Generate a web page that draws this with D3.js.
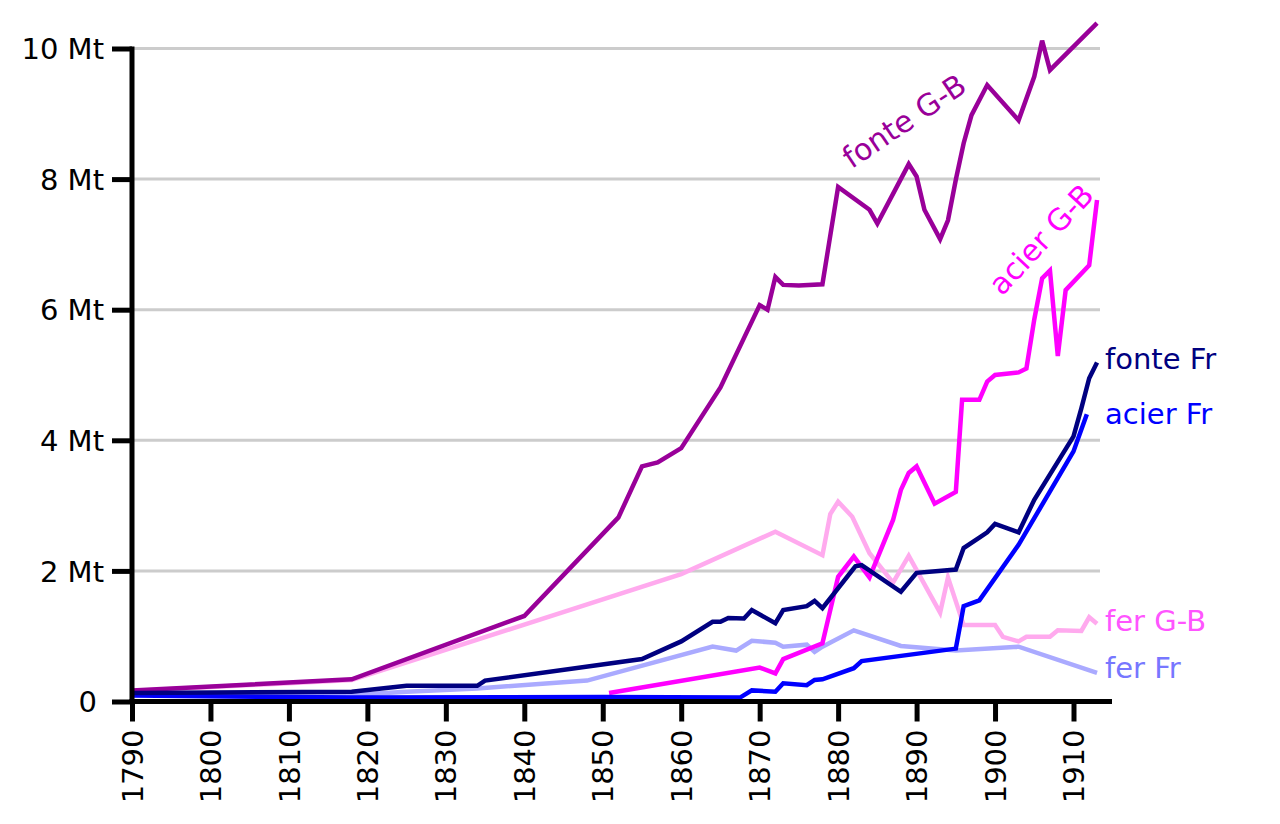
<!DOCTYPE html>
<html>
<head>
<meta charset="utf-8">
<script src="https://cdn.jsdelivr.net/npm/d3@7"></script>
<style>
  html, body { margin: 0; padding: 0; background: #fff; }
  svg { display: block; font-family: "DejaVu Sans", sans-serif; }
</style>
</head>
<body>
<svg id="chart" width="1280" height="824"></svg>
<script>
// ---- Data (Mt) ----
const xTicks = [1790, 1800, 1810, 1820, 1830, 1840, 1850, 1860, 1870, 1880, 1890, 1900, 1910];
const yTicks = [0, 2, 4, 6, 8, 10];
const yTickLabels = ["0", "2 Mt", "4 Mt", "6 Mt", "8 Mt", "10 Mt"];

const fonteGB = [[1790,0.17],[1818,0.34],[1840,1.31],[1852,2.82],[1855,3.6],[1857,3.66],[1860,3.88],
  [1865,4.81],[1870,6.07],[1871,6.0],[1872,6.5],[1873,6.38],[1875,6.37],[1878,6.39],[1880,7.88],
  [1884,7.53],[1885,7.32],[1889,8.23],[1890,8.04],[1891,7.53],[1893,7.08],[1894,7.37],[1895,7.99],
  [1896,8.55],[1897,8.98],[1899,9.44],[1903,8.9],[1905,9.57],[1906,10.12],[1907,9.67],[1913,10.39]];

const acierGB = [[1850.8,0.13],[1870,0.52],[1872,0.43],[1873,0.65],[1878,0.89],[1880,1.91],[1882,2.22],
  [1884,1.9],[1887,2.78],[1888,3.24],[1889,3.5],[1890,3.6],[1892.3,3.03],[1895,3.21],[1895.8,4.62],
  [1898,4.62],[1899,4.9],[1900,5.0],[1903,5.04],[1904,5.1],[1905,5.85],[1906,6.48],[1907,6.6],
  [1908,5.29],[1909,6.3],[1912,6.68],[1913,7.68]];

const fonteFr = [[1790,0.13],[1818,0.15],[1825,0.24],[1828,0.24],[1834,0.24],[1835,0.32],[1855,0.65],
  [1860,0.92],[1864,1.22],[1865,1.22],[1866,1.28],[1868,1.27],[1869,1.4],[1872,1.2],[1873,1.4],
  [1876,1.46],[1877,1.54],[1878,1.43],[1882.2,2.07],[1883,2.09],[1888,1.68],[1890,1.97],[1895,2.02],
  [1896,2.35],[1898,2.51],[1899,2.59],[1900,2.72],[1903,2.59],[1905,3.09],[1910,4.06],[1911,4.49],
  [1912,4.95],[1913,5.19]];

const acierFr = [[1790,0.09],[1818,0.06],[1850,0.07],[1867.5,0.06],[1869,0.17],[1872,0.15],[1873,0.28],
  [1876,0.25],[1877,0.33],[1878,0.34],[1882,0.51],[1883,0.62],[1895,0.81],[1896,1.46],[1898,1.55],
  [1903,2.4],[1910,3.83],[1911.7,4.4]];

const ferGB = [[1790,0.16],[1818,0.33],[1860,1.95],[1872,2.6],[1878,2.24],[1879,2.87],[1880,3.06],
  [1881.8,2.83],[1884,2.27],[1887,1.82],[1889,2.23],[1893,1.36],[1894,1.9],[1896,1.17],[1900,1.17],
  [1901,0.99],[1903,0.92],[1904,0.99],[1907,0.99],[1908,1.09],[1911,1.08],[1912,1.29],[1913,1.19]];

const ferFr = [[1790,0.12],[1818,0.1],[1825,0.15],[1834,0.2],[1848,0.32],[1864,0.84],[1867,0.78],
  [1869,0.93],[1872,0.9],[1873,0.84],[1876,0.87],[1877,0.76],[1878,0.84],[1882,1.09],[1888,0.85],
  [1895,0.78],[1903,0.84],[1913,0.44]];

const seriesNames = ["fer Fr", "fer G-B", "fonte G-B", "acier G-B", "acier Fr", "fonte Fr"];
const seriesData = [ferFr, ferGB, fonteGB, acierGB, acierFr, fonteFr];
const lineColors = ["#aaaaff", "#ffaaee", "#990099", "#ff00ff", "#0000ff", "#000080"];
const labelColors = ["#7777ff", "#ff55ff", "#990099", "#ff00ff", "#0000ff", "#000080"];

// ---- Chart ----
const svg = d3.select("#chart");
const x = d3.scaleLinear().domain([1790, 1910]).range([132, 1073.5]);
const y = d3.scaleLinear().domain([0, 10]).range([701.5, 48.5]);

// gridlines
svg.append("g").selectAll("line").data(yTicks.filter(d => d > 0)).join("line")
  .attr("x1", x(1790)).attr("x2", 1100)
  .attr("y1", d => y(d)).attr("y2", d => y(d))
  .attr("stroke", "#cccccc").attr("stroke-width", 3);

// lines
const line = d3.line().x(d => x(d[0])).y(d => y(d[1]));
svg.append("g").selectAll("path").data(seriesData).join("path")
  .attr("d", line)
  .attr("fill", "none")
  .attr("stroke", (d, i) => lineColors[i])
  .attr("stroke-width", 4.5);

// axes
const yAxis = d3.axisLeft(y).tickValues(yTicks).tickSize(20).tickPadding(8)
  .tickFormat((d, i) => yTickLabels[i]);
const gy = svg.append("g").attr("transform", `translate(${x(1790)},0)`).call(yAxis);
gy.select(".domain").attr("d", `M0,${y(10) - 2}V${y(0)}`);

const xAxis = d3.axisBottom(x).tickValues(xTicks).tickSize(20).tickFormat(d3.format("d"));
const gx = svg.append("g").attr("transform", `translate(0,${y(0)})`).call(xAxis);
gx.select(".domain").attr("d", `M${x(1790) - 2.5},0H1112`);

[gx, gy].forEach(g => {
  g.selectAll(".domain").attr("stroke", "#000").attr("stroke-width", 5);
  g.selectAll(".tick line").attr("stroke", "#000").attr("stroke-width", 5);
  g.selectAll(".tick text").attr("fill", "#000").attr("font-size", 29)
    .attr("font-family", "DejaVu Sans");
});
gx.selectAll(".tick text")
  .attr("transform", "rotate(-90)")
  .attr("text-anchor", "end")
  .attr("x", -28).attr("y", 0).attr("dy", "0.35em");
gy.selectAll(".tick text").attr("dy", "0.35em");
gy.selectAll(".tick text").filter(d => d === 0).attr("dx", -7);

// labels
const rightLabels = [
  {name: "fonte Fr", yr: 1913, v: 5.19, dy: 6.8},
  {name: "acier Fr", yr: 1913, v: 4.4, dy: 9.8},
  {name: "fer G-B", yr: 1913, v: 1.19, dy: 7.5},
  {name: "fer Fr", yr: 1913, v: 0.44, dy: 5.5}
];
svg.append("g").selectAll("text").data(rightLabels).join("text")
  .attr("x", x(1913) + 8)
  .attr("y", d => y(d.v) + d.dy)
  .attr("font-size", 29)
  .attr("fill", d => labelColors[seriesNames.indexOf(d.name)])
  .text(d => d.name);

const rotLabels = [
  {name: "fonte G-B", yr: 1881.7, v: 8.15, angle: -34},
  {name: "acier G-B", yr: 1900.9, v: 6.2, angle: -47}
];
svg.append("g").selectAll("text").data(rotLabels).join("text")
  .attr("transform", d => `translate(${x(d.yr)},${y(d.v)}) rotate(${d.angle})`)
  .attr("font-size", 30)
  .attr("fill", d => labelColors[seriesNames.indexOf(d.name)])
  .text(d => d.name);
</script>
</body>
</html>
